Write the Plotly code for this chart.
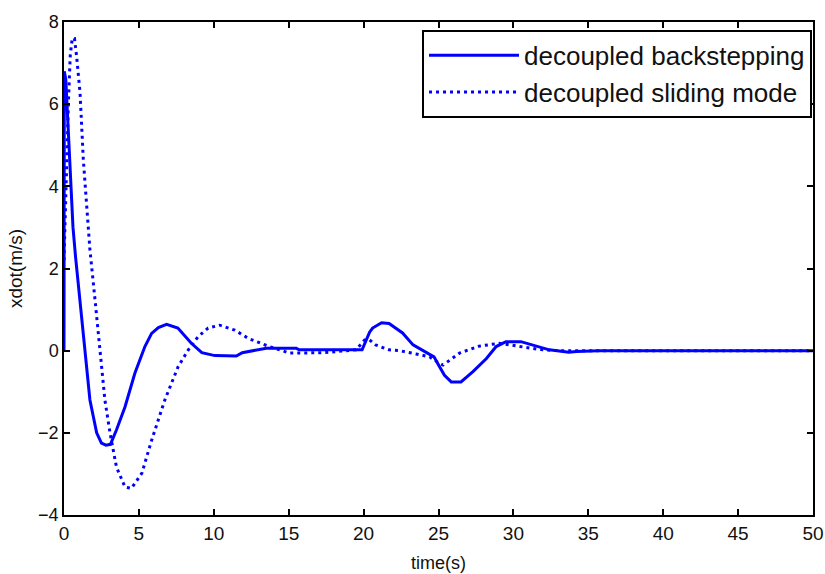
import plotly.graph_objects as go

# Velocity response xdot (m/s) versus time (s) for the two decoupled controllers
t_backstepping = [0, 0.02, 0.12, 0.25, 0.35, 0.47, 0.6, 0.78, 1.0, 1.18, 1.4, 1.73, 2.18, 2.5,
                  2.8, 3.1, 3.5, 4.07, 4.73, 5.4, 5.85, 6.3, 6.85, 7.6, 8.5, 9.2, 10.07, 11.5,
                  11.9, 12.7, 13.5, 15.5, 15.7, 19.9, 20.2, 20.4, 20.6, 21.2, 21.7, 22.6, 23.3,
                  23.7, 24.4, 24.7, 25.07, 25.4, 25.85, 26.5, 27.3, 28.2, 28.85, 29.5, 30.5,
                  31.3, 32.4, 33.7, 34.2, 35.7, 50]
v_backstepping = [0, 6.8, 6.6, 5.6, 4.8, 4.0, 3.0, 2.25, 1.47, 0.75, 0.0, -1.2, -2.0, -2.25,
                  -2.3, -2.28, -1.93, -1.37, -0.55, 0.1, 0.42, 0.56, 0.64, 0.55, 0.18, -0.05,
                  -0.12, -0.13, -0.05, 0.0, 0.06, 0.06, 0.02, 0.02, 0.26, 0.45, 0.55, 0.68,
                  0.66, 0.43, 0.14, 0.06, -0.1, -0.15, -0.39, -0.6, -0.76, -0.76, -0.51,
                  -0.19, 0.1, 0.22, 0.22, 0.14, 0.02, -0.04, -0.02, 0, 0]

t_sliding = [0, 0.1, 0.2, 0.3, 0.42, 0.55, 0.7, 0.84, 1.07, 1.29, 1.5, 1.73, 2.07, 2.4,
             2.73, 3.07, 3.5, 4.07, 4.5, 5.2, 5.85, 6.73, 7.62, 8.3, 8.95, 9.62, 10.4,
             11.4, 12.3, 13.0, 13.7, 15.07, 17.3, 19.5, 20.07, 20.4, 20.8, 21.7, 22.4,
             23.5, 24.4, 25.07, 25.3, 26.4, 27.7, 29.07, 30.4, 31.7, 33.0, 50]
v_sliding = [2.2, 3.5, 5.0, 6.1, 7.2, 7.6, 7.6, 7.17, 6.28, 4.65, 3.6, 2.46, 1.24, 0.02,
             -1.2, -2.0, -2.83, -3.32, -3.35, -2.98, -2.18, -1.2, -0.39, 0.02, 0.34, 0.55,
             0.62, 0.5, 0.3, 0.2, 0.1, -0.06, -0.05, 0.02, 0.26, 0.26, 0.14, 0.02, 0,
             -0.08, -0.15, -0.31, -0.35, -0.06, 0.11, 0.18, 0.11, 0.03, 0, 0]

x_ticks = [0, 5, 10, 15, 20, 25, 30, 35, 40, 45, 50]
y_ticks = [-4, -2, 0, 2, 4, 6, 8]

BLUE = "#0000FF"
FONT = "Liberation Sans, Arial, sans-serif"

fig = go.Figure()
fig.add_trace(go.Scatter(x=t_backstepping, y=v_backstepping, mode="lines",
                         name="decoupled backstepping",
                         line=dict(color=BLUE, width=3)))
fig.add_trace(go.Scatter(x=t_sliding, y=v_sliding, mode="lines",
                         name="decoupled sliding mode",
                         line=dict(color=BLUE, width=3, dash="3px,4px")))

axis_common = dict(showline=True, linecolor="black", linewidth=1.5, mirror="ticks",
                   ticks="inside", ticklen=6, tickcolor="black", tickwidth=1.5,
                   showgrid=False, zeroline=False, automargin=False)

fig.update_xaxes(range=[0, 50], tickvals=x_ticks, **axis_common,
                 tickfont=dict(family=FONT, size=19, color="#111"),
                 title=dict(text="time(s)", standoff=14,
                            font=dict(family=FONT, size=18, color="#111")))
fig.update_yaxes(range=[-4, 8], tickvals=y_ticks, **axis_common,
                 tickfont=dict(family=FONT, size=18, color="#111"),
                 title=dict(text="xdot(m/s)", standoff=10,
                            font=dict(family=FONT, size=19, color="#111")))

fig.update_layout(
    width=825, height=574,
    margin=dict(l=64, r=12, t=22, b=59),
    paper_bgcolor="white", plot_bgcolor="white",
    showlegend=True,
    legend=dict(x=0.9987, y=0.984, xanchor="right", yanchor="top",
                bgcolor="white", bordercolor="black", borderwidth=2,
                font=dict(family=FONT, size=26, color="#111"),
                itemwidth=90, tracegroupgap=0),
)

fig.write_html("out.html")
